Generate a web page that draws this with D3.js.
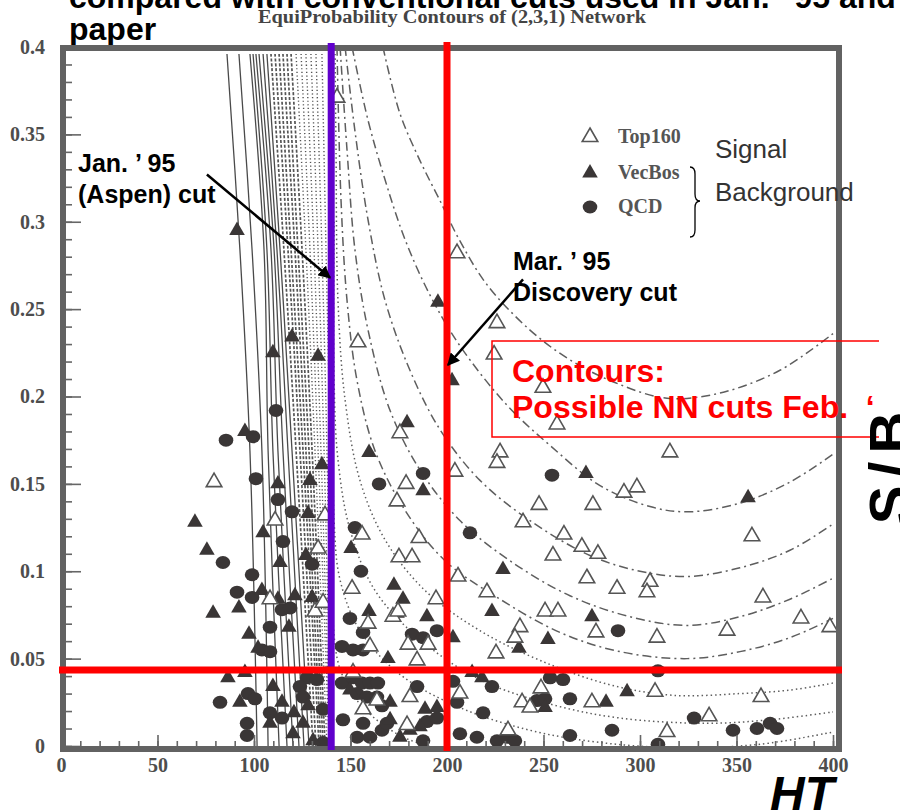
<!DOCTYPE html>
<html><head><meta charset="utf-8">
<script src="https://cdn.jsdelivr.net/npm/d3@7"></script>
<style>body{margin:0;background:#fff;} svg{display:block;} .pre{white-space:pre;}</style>
</head><body><svg id="c" width="900" height="812"></svg>
<script>
// ---------- DATA ----------
const xTicks = [0,50,100,150,200,250,300,350,400];
const yTicks = [0,0.05,0.1,0.15,0.2,0.25,0.3,0.35,0.4];
const yTickLabels = ["0","0.05","0.1","0.15","0.2","0.25","0.3","0.35","0.4"];
const legendLabels = ["Top160","VecBos","QCD"];
const janCutHT = 140;
const marCutHT = 200;
const marCutSB = 0.0435;

// Top160 (signal) : [HT, S/B]
const top160 = [[143.0,0.371],[205.2,0.282],[225.9,0.242],[153.9,0.231],[224.4,0.224],[249.7,0.205],[257.0,0.184],[315.5,0.168],[227.5,0.168],[225.9,0.162],[298.4,0.148],[291.7,0.145],[247.7,0.138],[275.6,0.138],[239.4,0.128],[260.6,0.121],[269.9,0.114],[278.2,0.110],[254.9,0.109],[358.0,0.120],[205.7,0.097],[272.5,0.096],[305.2,0.094],[303.6,0.088],[288.1,0.090],[220.7,0.088],[363.7,0.085],[250.8,0.077],[257.5,0.077],[383.4,0.073],[398.4,0.068],[237.8,0.068],[277.2,0.065],[308.8,0.062],[345.1,0.066],[235.2,0.062],[225.4,0.053],[248.7,0.033],[307.8,0.031],[362.7,0.028],[275.1,0.025],[238.9,0.025],[243.0,0.022],[335.8,0.017],[314.0,0.008],[231.6,0.009],[206.7,0.030],[204.1,0.157],[79.3,0.151],[178.8,0.150],[174.1,0.140],[110.9,0.129],[136.8,0.132],[156.0,0.121],[185.5,0.119],[133.2,0.113],[175.1,0.108],[181.9,0.108],[150.8,0.090],[108.3,0.084],[131.6,0.077],[135.8,0.082],[172.0,0.074],[174.6,0.077],[194.3,0.084],[159.1,0.070],[179.8,0.058],[190.2,0.058],[160.1,0.057],[184.5,0.049],[156.5,0.021],[179.3,0.012],[180.8,0.028],[151.3,0.042],[163.7,0.026],[175.6,0.179]];

// VecBos (background)
const vecbos = [[91.2,0.295],[109.8,0.225],[119.7,0.234],[133.2,0.223],[95.3,0.180],[195.3,0.254],[202.6,0.209],[272.0,0.156],[356.0,0.142],[229.0,0.101],[223.3,0.077],[275.1,0.074],[252.3,0.061],[237.3,0.056],[203.1,0.062],[218.1,0.039],[293.3,0.031],[282.4,0.025],[250.8,0.022],[213.0,0.042],[159.6,0.168],[135.2,0.161],[129.0,0.152],[112.4,0.150],[187.6,0.146],[128.0,0.133],[69.4,0.128],[104.7,0.122],[75.6,0.112],[126.9,0.109],[150.3,0.113],[172.5,0.092],[104.1,0.089],[112.4,0.084],[121.2,0.086],[130.1,0.085],[92.2,0.079],[78.8,0.076],[159.6,0.077],[177.2,0.084],[189.6,0.074],[118.1,0.068],[97.4,0.064],[102.1,0.056],[169.4,0.050],[86.5,0.039],[95.3,0.042],[92.7,0.025],[109.8,0.034],[114.5,0.025],[128.0,0.023],[120.7,0.019],[149.7,0.032],[170.5,0.025],[170.5,0.015],[194.8,0.022],[186.0,0.011],[108.3,0.013],[125.4,0.013],[175.6,0.005],[120.2,0.007],[174.1,0.076],[180.8,0.009],[188.6,0.021],[130.6,0.003],[179.3,0.185],[113.5,0.105]];

// QCD (background)
const qcd = [[111.4,0.192],[85.5,0.175],[99.5,0.177],[101.0,0.153],[187.6,0.156],[164.8,0.150],[112.4,0.141],[119.7,0.134],[152.3,0.125],[115.0,0.117],[83.9,0.105],[130.1,0.104],[155.4,0.100],[99.0,0.098],[91.2,0.088],[99.0,0.085],[114.5,0.078],[118.7,0.079],[149.7,0.073],[108.3,0.068],[156.5,0.065],[181.9,0.064],[187.6,0.062],[194.8,0.066],[104.1,0.055],[108.3,0.054],[145.6,0.057],[151.3,0.055],[156.5,0.055],[127.5,0.039],[132.6,0.038],[96.9,0.030],[100.5,0.027],[82.4,0.025],[108.3,0.019],[123.8,0.034],[125.4,0.028],[135.8,0.021],[145.6,0.036],[151.3,0.039],[156.0,0.036],[160.1,0.036],[164.2,0.036],[153.4,0.030],[158.5,0.028],[163.7,0.028],[184.5,0.034],[166.3,0.023],[146.1,0.015],[156.5,0.013],[166.3,0.009],[189.6,0.014],[194.8,0.016],[96.4,0.013],[96.4,0.006],[135.8,0.002],[153.4,0.005],[160.1,0.005],[254.4,0.155],[211.9,0.122],[288.6,0.066],[253.4,0.039],[260.1,0.038],[223.3,0.034],[263.7,0.027],[246.6,0.026],[250.8,0.027],[218.7,0.019],[328.0,0.016],[285.5,0.009],[263.7,0.006],[348.2,0.009],[360.6,0.010],[367.4,0.013],[371.0,0.010],[206.7,0.007],[215.5,0.005],[225.9,0.003],[231.1,0.005],[235.2,0.003],[309.3,0.001],[205.2,0.025],[203.1,0.037],[309.3,0.043],[168.9,0.013],[187.6,0.003],[114.5,0.016]];

// Left contour family: HT value at each S/B level
const leftLevels = [0.396, 0.284, 0.169, 0];
const leftSolid = [[86.0,92.7,97.9,101.6],[92.2,99.0,104.1,107.3],[97.9,105.2,107.3,113.0],[99.5,106.7,109.8,117.1],[101.0,108.8,112.4,120.2],[102.6,110.4,115.0,123.3],[104.7,111.9,117.6,125.9],[106.7,113.5,119.7,128.5]];
const leftDashed = [[108.8,115.5,121.8,130.6],[110.9,117.6,123.8,132.1],[113.0,119.2,125.4,133.7],[115.0,121.2,126.9,134.7],[117.1,122.8,128.5,135.8],[119.2,124.9,130.1,136.8]];
const leftDotted = [[121.8,126.9,131.6,137.8],[124.4,129.0,133.2,138.9],[126.9,131.1,134.7,139.4],[129.5,133.2,136.3,139.9],[132.1,135.2,137.8,140.4],[135.2,137.3,139.4,140.9]];

// Right contour family: [HT, S/B] points
const rightDashDot = [
 [[166.8,0.400],[175.6,0.362],[186.0,0.335],[196.4,0.312],[206.7,0.289],[220.7,0.264],[243.0,0.238],[263.7,0.221],[287.0,0.208],[314.0,0.199],[341.5,0.202],[372.5,0.215],[400,0.236]],
 [[150.8,0.400],[159.1,0.358],[167.9,0.324],[178.2,0.290],[191.2,0.258],[206.7,0.229],[231.1,0.195],[253.4,0.172],[279.3,0.149],[305.2,0.137],[324.9,0.134],[351.8,0.139],[377.7,0.151],[400,0.167]],
 [[147.2,0.400],[152.3,0.352],[159.1,0.301],[167.9,0.255],[180.8,0.215],[196.4,0.181],[217.1,0.152],[243.0,0.129],[274.1,0.109],[300.0,0.100],[324.4,0.097],[351.8,0.102],[377.7,0.112],[400,0.127]],
 [[144.6,0.400],[148.2,0.341],[152.3,0.284],[159.1,0.238],[170.5,0.192],[186.0,0.158],[206.7,0.129],[232.6,0.106],[263.7,0.086],[294.8,0.074],[324.4,0.069],[351.8,0.074],[377.7,0.084],[400,0.096]],
 [[143.0,0.400],[145.1,0.312],[148.2,0.255],[153.4,0.209],[162.7,0.169],[178.2,0.135],[199.0,0.106],[227.5,0.084],[258.5,0.065],[289.6,0.054],[324.4,0.050],[351.8,0.054],[377.7,0.062],[400,0.073]]
];
const rightDotted = [
 [[142.0,0.396],[142.5,0.341],[143.5,0.255],[147.2,0.198],[154.9,0.152],[167.9,0.118],[188.6,0.089],[217.1,0.066],[248.2,0.049],[284.5,0.035],[317.1,0.029],[351.8,0.030],[377.7,0.032],[400,0.036]],
 [[141.5,0.300],[141.5,0.209],[143.5,0.164],[149.7,0.124],[162.7,0.089],[186.0,0.061],[217.1,0.038],[253.4,0.024],[289.6,0.016],[334.7,0.013],[367.4,0.015],[400,0.0195]],
 [[141.0,0.200],[141.5,0.129],[144.6,0.095],[154.9,0.066],[175.6,0.041],[206.7,0.022],[243.0,0.009],[279.3,0.002],[320.7,-0.001],[362.2,0.001],[400,0.008]],
 [[140.9,0.100],[140.9,0.072],[144.6,0.044],[154.9,0.024],[175.6,0.006],[196.4,-0.002]]
];

// annotation arrows: [start, end] in data units
const janArrow = [[75.6,0.327],[139.4,0.268]];
const marArrow = [[239.4,0.267],[200.5,0.218]];

// ---------- DRAW ----------
const svg = d3.select("#c");
const x = d3.scaleLinear().domain([0,400]).range([61,833]);
const y = d3.scaleLinear().domain([0,0.4]).range([746,47]);
const ink = "#3a3636", gray = "#555";

const defs = svg.append("defs");
defs.append("clipPath").attr("id","plot").append("rect")
  .attr("x",64).attr("y",50).attr("width",774).attr("height",697);
defs.append("clipPath").attr("id","boxclip").append("rect")
  .attr("x",0).attr("y",0).attr("width",879).attr("height",812);
defs.append("marker").attr("id","arr").attr("viewBox","0 0 10 10")
  .attr("refX",9).attr("refY",5).attr("markerWidth",5).attr("markerHeight",5)
  .attr("orient","auto").append("path").attr("d","M0,0L10,5L0,10z").attr("fill","#000");

// title texts
svg.append("text").attr("x",69).attr("y",8).attr("font-family","Liberation Sans, Arial, sans-serif")
  .attr("font-weight","bold").attr("font-size",32).attr("fill","#000")
  .text("compared with conventional cuts used in Jan. \u2019 95 and");
svg.append("text").attr("x",452).attr("y",23).attr("text-anchor","middle")
  .attr("font-family","Liberation Serif, Times New Roman, serif").attr("font-weight","bold")
  .attr("font-size",18).attr("fill","#444").attr("textLength",388).attr("lengthAdjust","spacingAndGlyphs")
  .text("EquiProbability Contours of (2,3,1) Network");
svg.append("text").attr("x",69).attr("y",40).attr("font-family","Liberation Sans, Arial, sans-serif")
  .attr("font-weight","bold").attr("font-size",32).attr("fill","#000").text("paper");

// contours
const g = svg.append("g").attr("clip-path","url(#plot)");
const line = d3.line().x(d=>x(d[0])).y(d=>y(d[1])).curve(d3.curveCatmullRom.alpha(0.5));
function drawLeft(arr, stroke, w, dash){
  arr.forEach(a=>{
    g.append("path").attr("d", line(a.map((h,i)=>[h,leftLevels[i]])))
     .attr("fill","none").attr("stroke",stroke).attr("stroke-width",w)
     .attr("stroke-dasharray",dash);
  });
}
drawLeft(leftSolid,"#4a4a4a",1.3,null);
drawLeft(leftDashed,"#555",1.7,"3,1.8");
drawLeft(leftDotted,"#555",1.4,"1.2,2.4");
rightDashDot.forEach(c=>g.append("path").attr("d",line(c)).attr("fill","none")
  .attr("stroke","#5e5e5e").attr("stroke-width",1.5).attr("stroke-dasharray","9,4,2,4"));
rightDotted.forEach(c=>g.append("path").attr("d",line(c)).attr("fill","none")
  .attr("stroke","#5e5e5e").attr("stroke-width",1.5).attr("stroke-dasharray","1.5,3"));

// points
const tri = d3.symbol().type(d3.symbolTriangle).size(105);
g.selectAll(".q").data(qcd).join("ellipse").attr("cx",d=>x(d[0])).attr("cy",d=>y(d[1]))
  .attr("rx",7.3).attr("ry",6.5).attr("fill",ink);
g.selectAll(".v").data(vecbos).join("path").attr("d",tri)
  .attr("transform",d=>`translate(${x(d[0])},${y(d[1])})`).attr("fill",ink);
g.selectAll(".t").data(top160).join("path").attr("d",tri)
  .attr("transform",d=>`translate(${x(d[0])},${y(d[1])})`).attr("fill","#fff")
  .attr("stroke",gray).attr("stroke-width",1.6);

// axes tick marks (inside the frame)
const tickCol = "#666";
const yMinor = svg.append("g").attr("transform","translate(64,0)")
  .call(d3.axisRight(y).ticks(40).tickSize(8).tickFormat(""));
const yMajor = svg.append("g").attr("transform","translate(64,0)")
  .call(d3.axisRight(y).tickValues(yTicks).tickSize(17).tickFormat(""));
const xMinor = svg.append("g").attr("transform","translate(0,747)")
  .call(d3.axisTop(x).ticks(40).tickSize(6).tickFormat(""));
const xMajor = svg.append("g").attr("transform","translate(0,747)")
  .call(d3.axisTop(x).tickValues(xTicks).tickSize(12).tickFormat(""));
[yMinor,yMajor,xMinor,xMajor].forEach(a=>{
  a.select(".domain").remove();
  a.selectAll("line").attr("stroke",tickCol).attr("stroke-width",1.6);
});

// tick labels
const yLab = svg.append("g").attr("transform","translate(63,0)")
  .call(d3.axisLeft(y).tickValues(yTicks).tickFormat((d,i)=>yTickLabels[i]).tickSize(0).tickPadding(18));
const xLab = svg.append("g").attr("transform","translate(0,749)")
  .call(d3.axisBottom(x).tickValues(xTicks).tickFormat(d3.format("d")).tickSize(0).tickPadding(9));
[yLab,xLab].forEach(a=>{
  a.select(".domain").remove();
  a.selectAll("text").attr("font-family","Liberation Serif, Times New Roman, serif")
   .attr("font-weight","bold").attr("font-size",20).attr("fill","#4d4d4d");
});

// frame
svg.append("rect").attr("x",63).attr("y",48).attr("width",776).attr("height",701)
  .attr("fill","none").attr("stroke","#626262").attr("stroke-width",6);

// cut lines
svg.append("line").attr("x1",x(janCutHT)).attr("x2",x(janCutHT)).attr("y1",43).attr("y2",750)
  .attr("stroke","#6000cc").attr("stroke-width",7);
svg.append("line").attr("x1",x(marCutHT)).attr("x2",x(marCutHT)).attr("y1",42).attr("y2",751)
  .attr("stroke","#ff0000").attr("stroke-width",7);
svg.append("line").attr("x1",59).attr("x2",842).attr("y1",y(marCutSB)).attr("y2",y(marCutSB))
  .attr("stroke","#ff0000").attr("stroke-width",7);

// legend
const legY = [137,173,207];
svg.append("path").attr("d",tri).attr("transform",`translate(590,${legY[0]})`)
  .attr("fill","#fff").attr("stroke",gray).attr("stroke-width",1.6);
svg.append("path").attr("d",tri).attr("transform",`translate(590,${legY[1]})`).attr("fill",ink);
svg.append("ellipse").attr("cx",590).attr("cy",legY[2]).attr("rx",7.3).attr("ry",6.5).attr("fill",ink);
legendLabels.forEach((t,i)=>svg.append("text").attr("x",618).attr("y",legY[i]+6)
  .attr("font-family","Liberation Serif, Times New Roman, serif").attr("font-weight","bold")
  .attr("font-size",20).attr("fill","#555").text(t));
svg.append("path").attr("d","M690,167 Q695,167 695,174 L695,194 Q695,201 700,201 Q695,201 695,208 L695,230 Q695,237 690,237")
  .attr("fill","none").attr("stroke","#000").attr("stroke-width",1.3);
svg.append("text").attr("x",715).attr("y",158).attr("font-family","Liberation Sans, Arial, sans-serif")
  .attr("font-size",26).attr("fill","#333").text("Signal");
svg.append("text").attr("x",715).attr("y",201).attr("font-family","Liberation Sans, Arial, sans-serif")
  .attr("font-size",26).attr("fill","#333").text("Background");

// annotations
const sans = "Liberation Sans, Arial, sans-serif";
function note(tx, ty, lines){
  lines.forEach((s,i)=>svg.append("text").attr("x",tx).attr("y",ty+i*31)
    .attr("font-family",sans).attr("font-weight","bold").attr("font-size",25).attr("fill","#000").text(s));
}
note(78,172,["Jan. \u2019 95","(Aspen) cut"]);
note(513,270,["Mar. \u2019 95","Discovery cut"]);
[janArrow, marArrow].forEach(a=>svg.append("line")
  .attr("x1",x(a[0][0])).attr("y1",y(a[0][1])).attr("x2",x(a[1][0])).attr("y2",y(a[1][1]))
  .attr("stroke","#000").attr("stroke-width",2.5).attr("marker-end","url(#arr)"));

// red box
const bx = svg.append("g").attr("clip-path","url(#boxclip)");
bx.append("path").attr("d","M879,341 L492,341 L492,437 L879,437").attr("fill","none")
  .attr("stroke","#ff0000").attr("stroke-width",1.5);
bx.append("text").attr("x",512).attr("y",382).attr("font-family",sans).attr("font-weight","bold")
  .attr("font-size",32).attr("fill","#ff0000").text("Contours:");
bx.append("text").attr("class","pre").attr("x",512).attr("y",418).attr("font-family",sans).attr("font-weight","bold")
  .attr("font-size",32).attr("fill","#ff0000").text("Possible NN cuts Feb.  \u2018");

// axis titles
svg.append("text").attr("x",770).attr("y",810).attr("font-family",sans).attr("font-weight","bold")
  .attr("font-style","italic").attr("font-size",48).attr("fill","#000").text("HT");
svg.append("text").attr("transform","translate(910,464) rotate(-90)").attr("text-anchor","middle")
  .attr("font-family",sans).attr("font-weight","bold").attr("font-size",58)
  .attr("letter-spacing",8).attr("fill","#000").text("S/B");
</script></body></html>
